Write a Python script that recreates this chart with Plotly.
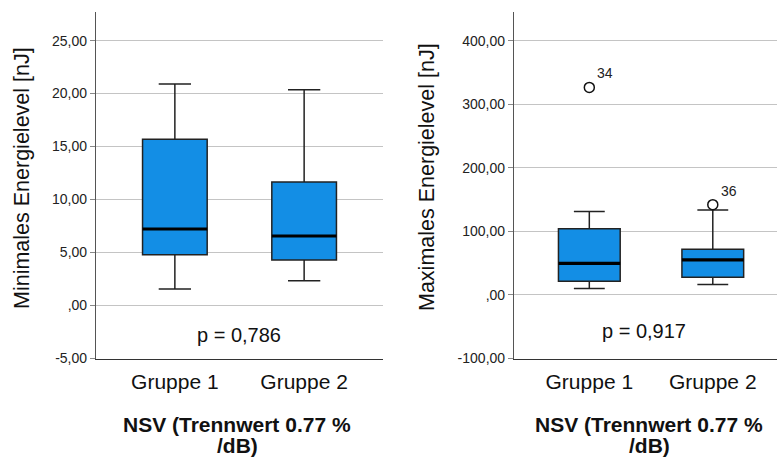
import plotly.graph_objects as go

# ---- data ----
groups = ["Gruppe 1", "Gruppe 2"]
positions = [0, 1]

min_lower = [1.56, 2.33]
min_q1 = [4.80, 4.30]
min_median = [7.22, 6.56]
min_q3 = [15.70, 11.65]
min_upper = [20.90, 20.36]

max_lower = [10.0, 16.2]
max_q1 = [21.4, 27.7]
max_median = [49.7, 55.0]
max_q3 = [104.0, 71.7]
max_upper = [131.4, 133.5]
max_outlier_pos = [0, 1]
max_outlier_val = [326.4, 142.0]
max_outlier_lbl = ["34", "36"]

left_ticks = [-5, 0, 5, 10, 15, 20, 25]
left_ticktext = ["-5,00", ",00", "5,00", "10,00", "15,00", "20,00", "25,00"]
right_ticks = [-100, 0, 100, 200, 300, 400]
right_ticktext = ["-100,00", ",00", "100,00", "200,00", "300,00", "400,00"]

p_left = "p = 0,786"
p_right = "p = 0,917"
ytitle_left = "Minimales Energielevel [nJ]"
ytitle_right = "Maximales Energielevel [nJ]"
xtitle_lines = ["NSV (Trennwert 0.77 %", "/dB)"]

BOX_W = 0.5
FILL = "#138EE5"
FONT = "Liberation Sans, Arial, sans-serif"

fig = go.Figure()

def add_panel(xa, ya, lower, q1, med, q3, upper):
    fig.add_trace(go.Box(
        x=positions, q1=q1, median=med, q3=q3,
        lowerfence=lower, upperfence=upper,
        width=BOX_W, whiskerwidth=0.5, boxpoints=False,
        fillcolor=FILL, line=dict(color="#222222", width=1.5),
        xaxis=xa, yaxis=ya, showlegend=False, hoverinfo="skip"))
    for p, m in zip(positions, med):
        fig.add_trace(go.Scatter(
            x=[p - BOX_W / 2, p + BOX_W / 2], y=[m, m], mode="lines",
            line=dict(color="#000000", width=3.2),
            xaxis=xa, yaxis=ya, showlegend=False, hoverinfo="skip"))

add_panel("x", "y", min_lower, min_q1, min_median, min_q3, min_upper)
add_panel("x2", "y2", max_lower, max_q1, max_median, max_q3, max_upper)

fig.add_trace(go.Scatter(
    x=max_outlier_pos, y=max_outlier_val, mode="markers",
    marker=dict(symbol="circle-open", size=10, color="#111111", line=dict(width=1.5)),
    xaxis="x2", yaxis="y2", showlegend=False, hoverinfo="skip"))

for p, v, t in zip(max_outlier_pos, max_outlier_val, max_outlier_lbl):
    fig.add_annotation(x=p, y=v, xref="x2", yref="y2", text=t, showarrow=False,
                       xanchor="left", yanchor="middle", xshift=6, yshift=14,
                       font=dict(size=14, color="#222222", family=FONT))

W, H = 777, 457
def px_x(v):
    return v / W
def px_y(v):
    return 1 - v / H

ydom = [px_y(358.5), px_y(12)]
common_y = dict(showgrid=True, gridcolor="#c4c4c4", gridwidth=1,
                zeroline=False, showline=True, linecolor="#555555", linewidth=1.2,
                ticks="outside", ticklen=5, tickcolor="#888888",
                tickfont=dict(size=14, color="#222222", family=FONT))
common_x = dict(showgrid=False, zeroline=False, showline=True, linecolor="#333333",
                linewidth=1.2, ticks="", tickvals=positions, ticktext=groups,
                tickfont=dict(size=21, color="#111111", family=FONT),
                ticklabelstandoff=4)

fig.update_layout(
    width=W, height=H, margin=dict(l=0, r=0, t=0, b=0, autoexpand=False),
    paper_bgcolor="white", plot_bgcolor="white",
    font=dict(family=FONT),
    xaxis=dict(domain=[px_x(96), px_x(383)], range=[-0.61, 1.61], anchor="y", **common_x),
    yaxis=dict(domain=ydom, range=[-5, 27.7], tickvals=left_ticks, ticktext=left_ticktext,
               anchor="x", **common_y),
    xaxis2=dict(domain=[px_x(514), 1.0], range=[-0.61, 1.52], anchor="y2", **common_x),
    yaxis2=dict(domain=ydom, range=[-100, 445], tickvals=right_ticks, ticktext=right_ticktext,
                anchor="x2", **common_y),
)

def ann(cx, cy, text, size, angle=0):
    fig.add_annotation(x=px_x(cx), y=px_y(cy), xref="paper", yref="paper", text=text,
                       xanchor="center", yanchor="middle", textangle=angle,
                       showarrow=False, align="center",
                       font=dict(size=size, color="#111111", family=FONT))

# p-values
ann(239.5, 335, p_left, 20)
ann(644, 331, p_right, 20)

# y titles
ann(22, 178, ytitle_left, 21.5, angle=-90)
ann(427, 177, ytitle_right, 21.5, angle=-90)

# x titles (two tight lines)
for cx in (237, 649):
    ann(cx, 424, "<b>" + xtitle_lines[0] + "</b>", 21)
    ann(cx, 445, "<b>" + xtitle_lines[1] + "</b>", 21)

fig.write_html("out.html")
